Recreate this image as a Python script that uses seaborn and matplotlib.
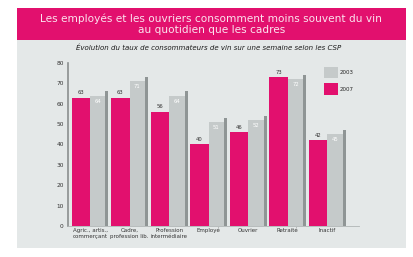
import numpy as np
import pandas as pd
import matplotlib
matplotlib.use('Agg')
import matplotlib.pyplot as plt
import seaborn as sns
from matplotlib.patches import Rectangle, Patch

categories = ['Agric., artis.,\ncommerçant', 'Cadre,\nprofession lib.', 'Profession\nintermédiaire',
              'Employé', 'Ouvrier', 'Retraité', 'Inactif']
years = ['2003', '2007']
val_2003 = [64, 71, 64, 51, 52, 72, 45]   # gray
val_2007 = [63, 63, 56, 40, 46, 73, 42]   # magenta
yticks = [0, 10, 20, 30, 40, 50, 60, 70, 80]

MAGENTA = '#e2106e'
GRAY = '#c5caca'
PANEL = '#e4e8e8'

df = pd.DataFrame({
    'csp': categories * 2,
    'annee': [years[1]] * len(categories) + [years[0]] * len(categories),
    'taux': val_2007 + val_2003,
})

sns.set_style('white')
plt.rcParams['font.family'] = ['DejaVu Sans']

fig = plt.figure(figsize=(4.14, 2.57), dpi=100)
fig.patch.set_facecolor('white')
# light panel and magenta title band
fig.patches.append(Rectangle((0.041, 0.035), 0.94, 0.934, transform=fig.transFigure,
                             facecolor=PANEL, edgecolor='none', zorder=-2))
fig.patches.append(Rectangle((0.041, 0.844), 0.94, 0.125, transform=fig.transFigure,
                             facecolor=MAGENTA, edgecolor='none', zorder=-1))
fig.text(0.51, 0.907, 'Les employés et les ouvriers consomment moins souvent du vin\nau quotidien que les cadres',
         ha='center', va='center', color='#fbe3ee', fontsize=7.6, linespacing=1.1)
fig.text(0.505, 0.815, 'Évolution du taux de consommateurs de vin sur une semaine selon les CSP',
         ha='center', va='center', color='#1a1a1a', fontsize=5.0, style='italic')

ax = fig.add_axes([0.164, 0.121, 0.703, 0.634])
ax.set_facecolor('none')
sns.barplot(data=df, x='csp', y='taux', hue='annee', hue_order=[years[1], years[0]],
            palette={years[1]: MAGENTA, years[0]: GRAY}, width=0.93, gap=0.0,
            ax=ax, legend=False, errorbar=None, saturation=1, linewidth=0)

n = len(categories)
mag_bars = ax.patches[:n]
gray_bars = ax.patches[n:2 * n]
for p, v in zip(mag_bars, val_2007):
    ax.text(p.get_x() + p.get_width() / 2, v + 1.2, str(v), ha='center', va='bottom',
            fontsize=3.8, color='#333333')
for p, v in zip(gray_bars, val_2003):
    w = p.get_width() * 0.16
    ax.add_patch(Rectangle((p.get_x() + p.get_width() - w, 0), w, v + 2,
                           facecolor='#8f9595', edgecolor='none', zorder=3))
    ax.text(p.get_x() + p.get_width() * 0.42, v - 1.5, str(v), ha='center', va='top',
            fontsize=3.8, color='white')

ax.set_ylim(0, 80)
ax.set_xlim(-0.56, 6.8)
ax.set_yticks(yticks)
ax.set_yticklabels([str(t) for t in yticks], fontsize=4.2, color='#333333')
ax.tick_params(axis='y', length=0, pad=3)
ax.tick_params(axis='x', length=0, pad=1.5, labelsize=4.0, labelcolor='#333333')
ax.set_xlabel('')
ax.set_ylabel('')
for s in ['top', 'right']:
    ax.spines[s].set_visible(False)
ax.spines['left'].set_color('#8a8f8f')
ax.spines['left'].set_linewidth(1.2)
ax.spines['bottom'].set_color('#b0b5b5')
ax.spines['bottom'].set_linewidth(0.6)

handles = [Patch(facecolor=GRAY, edgecolor='none', label=years[0]),
           Patch(facecolor=MAGENTA, edgecolor='none', label=years[1])]
leg = ax.legend(handles=handles, loc='upper left', bbox_to_anchor=(0.865, 1.0),
                frameon=False, fontsize=4.0, handlelength=2.6, handleheight=2.8,
                labelspacing=0.9, handletextpad=0.3, borderpad=0.2)

fig.savefig('out.png', dpi=100)
